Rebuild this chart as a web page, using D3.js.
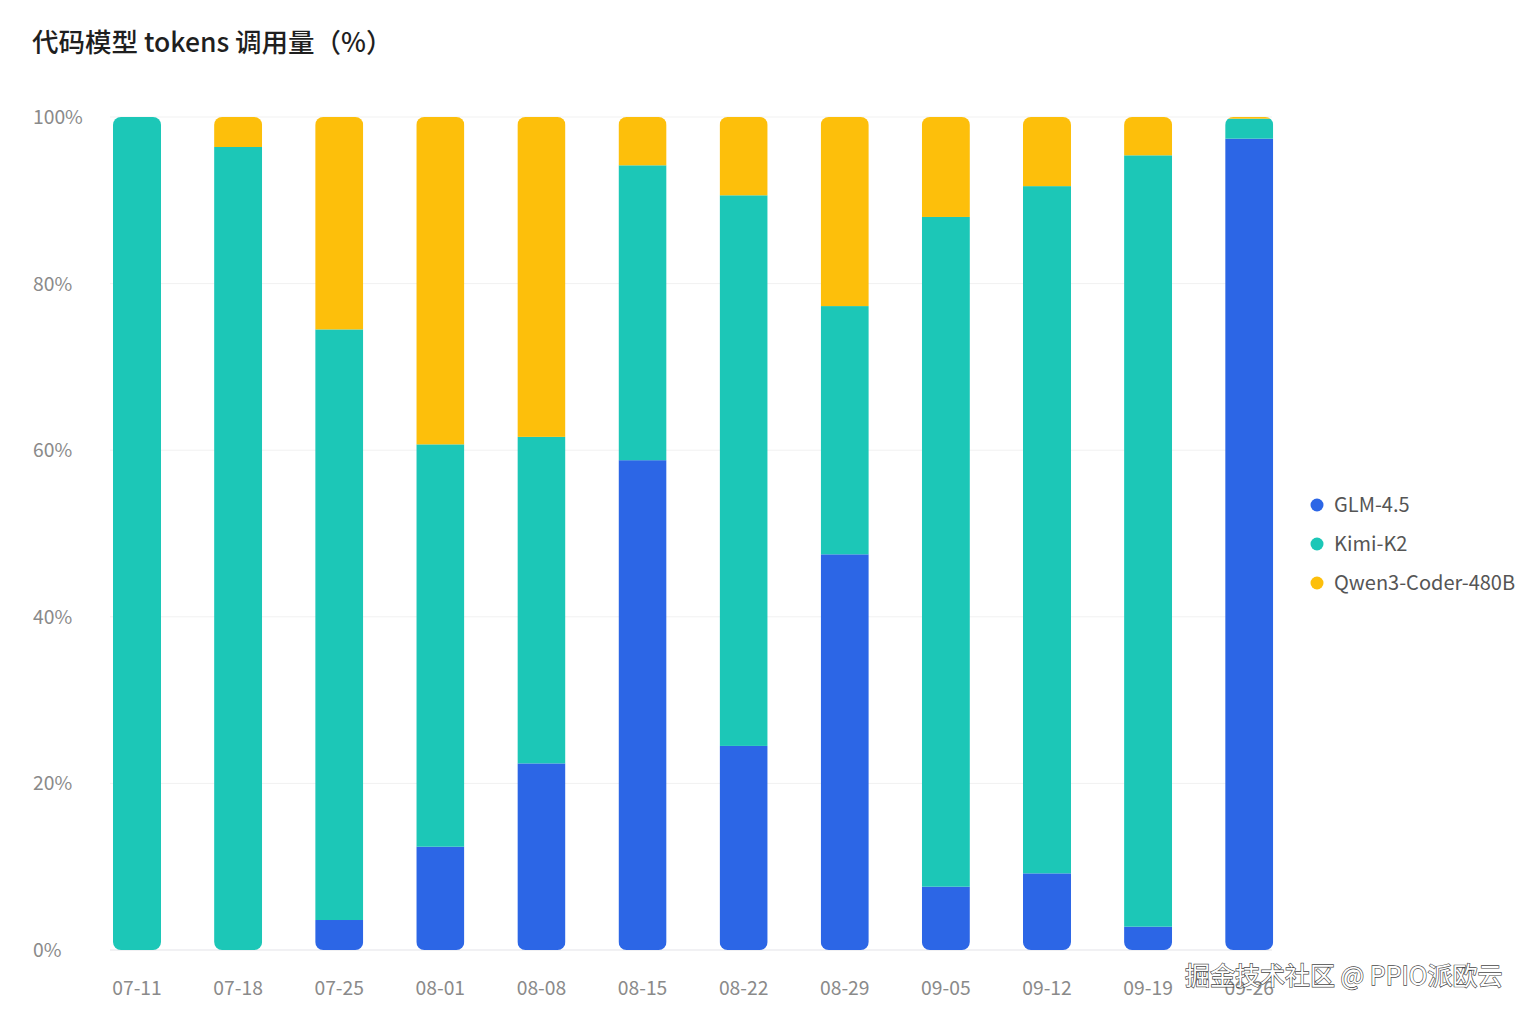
<!DOCTYPE html>
<html><head><meta charset="utf-8">
<script src="https://cdn.jsdelivr.net/npm/d3@7/dist/d3.min.js"></script>
<style>
html,body{margin:0;padding:0;background:#fff;}
svg{display:block;font-family:"Noto Sans CJK SC","Noto Sans",sans-serif;}
</style></head>
<body>
<svg id="c" width="1531" height="1017"></svg>
<script>
const categories = ["07-11","07-18","07-25","08-01","08-08","08-15","08-22","08-29","09-05","09-12","09-19","09-26"];
const seriesNames = ["GLM-4.5","Kimi-K2","Qwen3-Coder-480B"];
const glm   = [0, 0, 3.6, 12.4, 22.4, 58.8, 24.5, 47.5, 7.6, 9.2, 2.8, 97.4];
const kimi  = [100, 96.4, 70.9, 48.3, 39.2, 35.4, 66.1, 29.8, 80.4, 82.5, 92.6, 2.4];
const qwen  = [0, 3.6, 25.5, 39.3, 38.4, 5.8, 9.4, 22.7, 12.0, 8.3, 4.6, 0.2];
const yTicks = [0, 20, 40, 60, 80, 100];
const colors = ["#2c66e6", "#1cc7b7", "#fdbf0b"];
const title = "代码模型 tokens 调用量（%）";
const watermark = "掘金技术社区 @ PPIO派欧云";

const svg = d3.select("#c");
const rows = categories.map((c,i)=>({cat:c, "GLM-4.5":glm[i], "Kimi-K2":kimi[i], "Qwen3-Coder-480B":qwen[i]}));
const stacked = d3.stack().keys(seriesNames)(rows);

const x = d3.scaleBand().domain(categories).range([86.5, 1299.7]).paddingInner(0.525).paddingOuter(0.262);
const y = d3.scaleLinear().domain([0,100]).range([950, 117]);

// title
svg.append("text").attr("x",32).attr("y",52).attr("font-size",26.5).attr("fill","#1f1f1f").attr("font-weight",500).text(title);

// grid
svg.append("g").selectAll("line").data(yTicks).join("line")
  .attr("x1",110).attr("x2",1272).attr("y1",d=>y(d)).attr("y2",d=>y(d))
  .attr("stroke", d=> d===0 ? "#e3e3e8" : "#f1f1f1").attr("stroke-width",1);

// y labels
svg.append("g").selectAll("text").data(yTicks).join("text")
  .attr("x",33).attr("y",d=>y(d)+7).attr("font-size",19.3).attr("fill","#8a8a8a")
  .text(d=>d+"%");

// x labels
const xAxis = d3.axisBottom(x).tickSize(0).tickPadding(0);
const gx = svg.append("g").attr("transform","translate(0,950)").call(xAxis);
gx.select(".domain").remove();
gx.selectAll("text").attr("font-size",19.3).attr("fill","#8a8a8a").attr("dy",0).attr("y",45)
  .attr("font-family","\"Noto Sans CJK SC\",\"Noto Sans\",sans-serif");

// clip paths for rounded bars
const defs = svg.append("defs");
categories.forEach((c,i)=>{
  defs.append("clipPath").attr("id","clip"+i).append("rect")
    .attr("x",x(c)).attr("width",x.bandwidth())
    .attr("y",y(glm[i]+kimi[i]+qwen[i])).attr("height",y(0)-y(glm[i]+kimi[i]+qwen[i]))
    .attr("rx",8).attr("ry",8);
});

const barsG = svg.append("g");
categories.forEach((c,i)=>{
  const g = barsG.append("g").attr("clip-path","url(#clip"+i+")");
  stacked.forEach((s,k)=>{
    const d = s[i];
    if (d[1]-d[0] <= 0) return;
    g.append("rect").attr("x",x(c)).attr("width",x.bandwidth())
      .attr("y",y(d[1])).attr("height",y(d[0])-y(d[1])).attr("fill",colors[k]);
  });
});

// legend
const lg = svg.append("g").selectAll("g").data(seriesNames).join("g")
  .attr("transform",(d,i)=>`translate(1317,${505+i*39})`);
lg.append("circle").attr("r",6.5).attr("fill",(d,i)=>colors[i]);
lg.append("text").attr("x",17).attr("y",7).attr("font-size",20).attr("fill","#555").text(d=>d);

// watermark
svg.append("text").attr("x",1185).attr("y",985).attr("font-size",25)
  .attr("fill","#fff").attr("stroke","#333").attr("stroke-width",1.3).attr("paint-order","stroke")
  .attr("opacity",0.9).text(watermark);
</script>
</body></html>
